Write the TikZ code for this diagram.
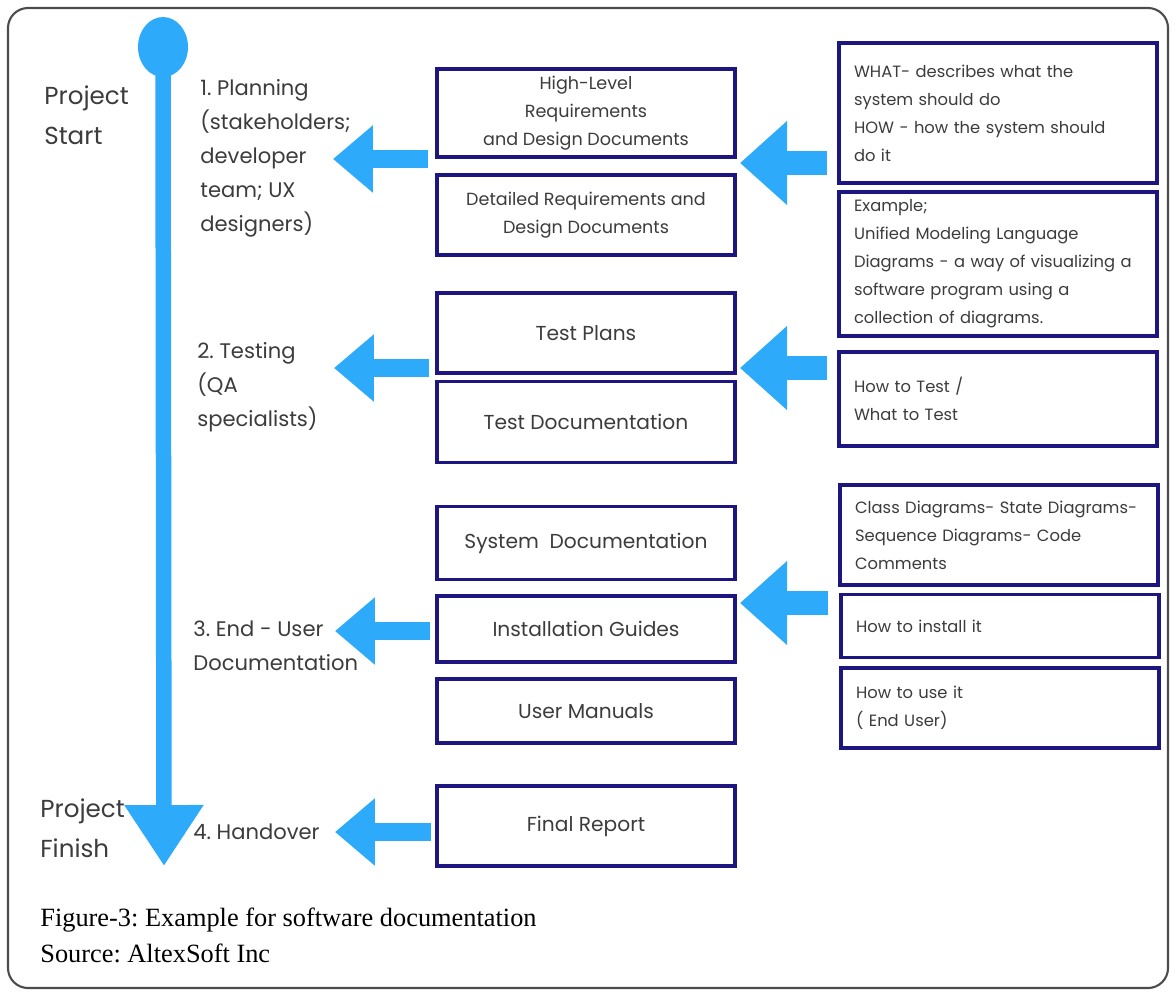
\documentclass[tikz,border=0pt]{standalone}
\usepackage{fontspec}
\setmainfont{Poppins}
\newfontfamily\captionfont{Liberation Serif}
\usetikzlibrary{positioning}
\usetikzlibrary{calc}
\usetikzlibrary{arrows.meta}
\usetikzlibrary{shapes.geometric}
\definecolor{flowblue}{RGB}{45,170,250}
\definecolor{boxnavy}{RGB}{30,22,128}
\definecolor{textgray}{RGB}{60,60,60}
\frenchspacing

\begin{document}
\begin{tikzpicture}[x=0.02cm, y=-0.02cm,
    doc/.style={draw=boxnavy, line width=2pt, minimum width=5.96cm, text=textgray, align=center, font=\fontsize{10}{15.9}\selectfont},
    bigdoc/.style={doc, font=\fontsize{11.5}{16}\selectfont},
    src/.style={draw=boxnavy, line width=2pt, text width=5.76cm, inner xsep=0.3cm, align=left, text=textgray, font=\fontsize{9.3}{15.9}\selectfont},
    stage/.style={anchor=west, align=left, inner sep=0pt, text=textgray, font=\fontsize{12}{19.3}\selectfont},
    leftarrow/.style={flowblue, line width=0.36cm, -{Triangle[length=0.8cm, width=1.3cm]}},
    rightarrow/.style={flowblue, line width=0.48cm, -{Triangle[length=0.94cm, width=1.62cm]}}]
        \fill[white] (0,0) rectangle (1175,991);
        \useasboundingbox (0,0) rectangle (1175,991);
        \draw[gray!60!black, line width=1.2pt, rounded corners=0.4cm] (8,8) rectangle (1168,988);

        \node[ellipse, fill=flowblue, minimum width=1cm, minimum height=1.2cm, inner sep=0pt] (start_dot) at (163,47) {};
        \coordinate (finish_tip) at (164,866);
        \draw[flowblue, line width=0.31cm, -{Triangle[length=1.22cm, width=1.5cm]}] (start_dot.center) -- (finish_tip);

        \node[stage, font=\fontsize{14}{22.7}\selectfont] (start_lbl) at (44,115) {Project\\Start};
        \node[stage, font=\fontsize{14}{22.7}\selectfont] (finish_lbl) at (40,828) {Project\\Finish};

        \node[stage] (stage_1) at (200,158) {1. Planning\\(stakeholders;\\developer\\team; UX\\designers)};
        \node[stage] (stage_2) at (197,387) {2. Testing\\(QA\\specialists)};
        \node[stage] (stage_3) at (193,646) {3. End - User\\Documentation};
        \node[stage] (stage_4) at (193,832) {4. Handover};

        \node[doc, minimum height=1.76cm] (doc_1) at (586,113) {High-Level\\Requirements\\and Design Documents};
        \node[doc, minimum height=1.6cm] (doc_2) at (586,215) {Detailed Requirements and\\Design Documents};
        \node[bigdoc, minimum height=1.6cm] (doc_3) at (586,333) {Test Plans};
        \node[bigdoc, minimum height=1.62cm] (doc_4) at (586,422) {Test Documentation};
        \node[bigdoc, minimum height=1.46cm] (doc_5) at (586,543) {System~~Documentation};
        \node[bigdoc, minimum height=1.32cm] (doc_6) at (586,629) {Installation Guides};
        \node[bigdoc, minimum height=1.28cm] (doc_7) at (586,711) {User Manuals};
        \node[bigdoc, minimum height=1.6cm] (doc_8) at (586,826) {Final Report};

        \node[src, minimum height=2.8cm] (src_1) at (998,113) {WHAT- describes what the\\system should do\\HOW - how the system should\\do it};
        \node[src, minimum height=2.88cm] (src_2) at (998,264) {Example;\\Unified Modeling Language\\Diagrams - a way of visualizing a\\software program using a\\collection of diagrams.};
        \node[src, minimum height=1.88cm] (src_3) at (998,399) {How to Test /\\What to Test};
        \node[src, minimum height=2cm] (src_4) at (999,535) {Class Diagrams- State Diagrams-\\Sequence Diagrams- Code\\Comments};
        \node[src, minimum height=1.26cm] (src_5) at (1000,626) {How to install it};
        \node[src, minimum height=1.6cm] (src_6) at (1000,708) {How to use it\\( End User)};

        \coordinate (tip_1) at (333,159);
        \coordinate (tip_2) at (334,368);
        \coordinate (tip_3) at (335,631);
        \coordinate (tip_4) at (335,832);
        \coordinate (tip_5) at (740,163);
        \coordinate (tip_6) at (740,368);
        \coordinate (tip_7) at (740,603);

        \draw[leftarrow, shorten <=0.14cm] (doc_1.west |- tip_1) -- (tip_1);
        \draw[leftarrow, shorten <=0.12cm] (doc_3.west |- tip_2) -- (tip_2);
        \draw[leftarrow, shorten <=0.1cm] (doc_6.west |- tip_3) -- (tip_3);
        \draw[leftarrow, shorten <=0.08cm] (doc_8.west |- tip_4) -- (tip_4);
        \draw[rightarrow, shorten <=0.2cm] (src_1.west |- tip_5) -- (tip_5);
        \draw[rightarrow, shorten <=0.2cm] (src_3.west |- tip_6) -- (tip_6);
        \draw[rightarrow, shorten <=0.2cm] (src_4.west |- tip_7) -- (tip_7);

        \node[anchor=west, align=left, inner sep=0pt, font=\captionfont\fontsize{15}{20.4}\selectfont] (caption) at (40,935) {Figure-3: Example for software documentation\\Source: AltexSoft Inc};

    \end{tikzpicture}
\end{document}
